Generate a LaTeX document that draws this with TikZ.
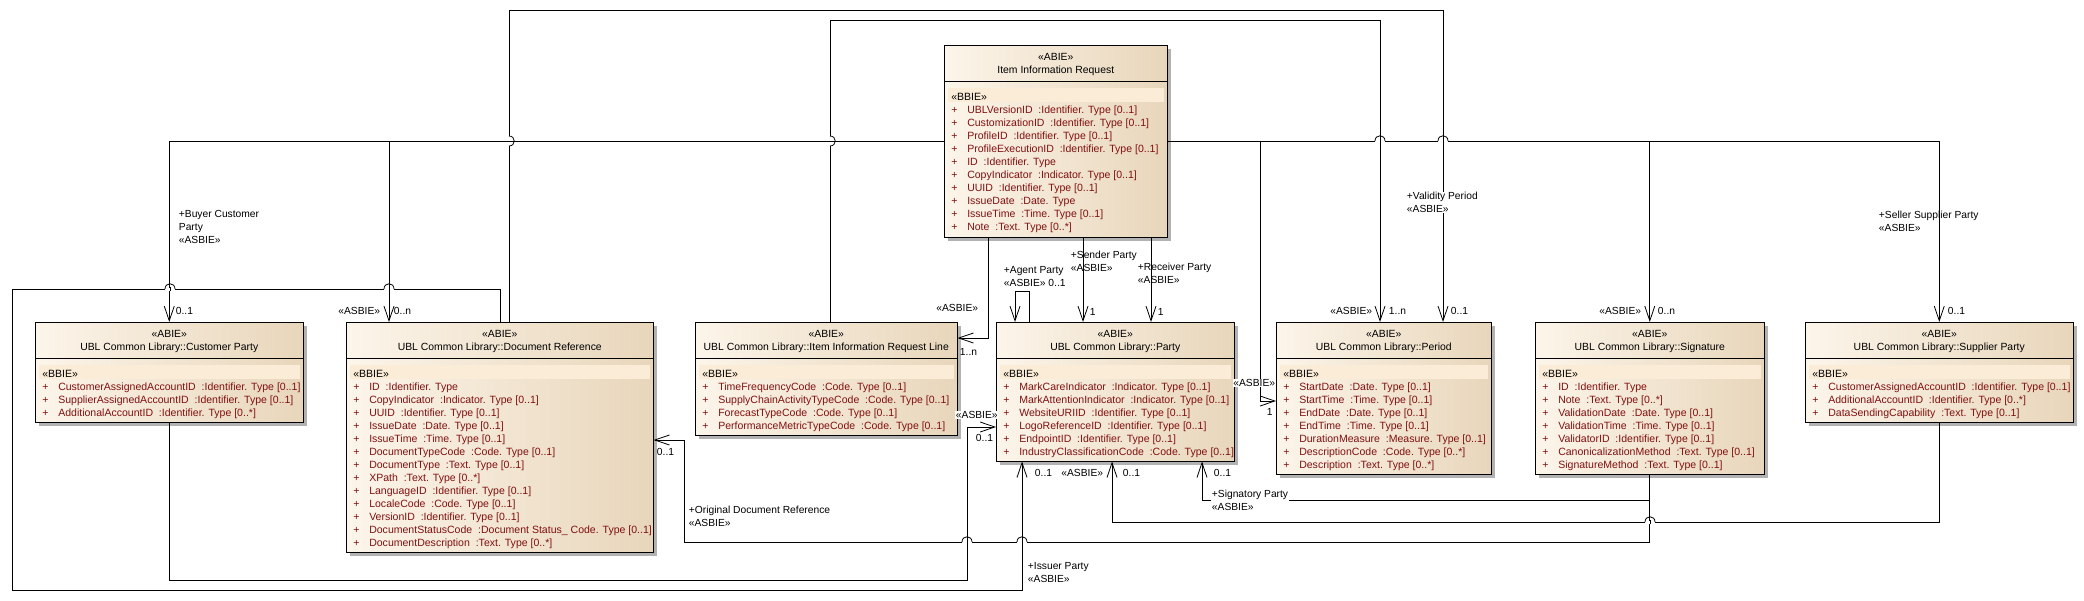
\documentclass[tikz,border=0pt]{standalone}
\usepackage{fontspec}
\setmainfont{Liberation Sans}
\usetikzlibrary{arrows.meta,calc}

\definecolor{attrred}{RGB}{128,16,16}
\definecolor{boxleft}{RGB}{252,245,234}
\definecolor{boxright}{RGB}{232,214,187}
\definecolor{bandcol}{RGB}{251,236,215}

\newcommand{\attr}[1]{\makebox[12pt][l]{+}#1}
% name, x, y, width, height, title, attributes
\newcommand{\umlclass}[7]{%
  \fill[black!30] (#2+4,#3+4) rectangle (#2+#4+4,#3+#5+4);
  \node[classbox,minimum width=#4*0.75pt,minimum height=#5*0.75pt] (#1) at (#2,#3) {};
  \node[classtitle] (#1-title) at ($(#1.north)+(0,19)$) {«ABIE»\\#6};
  \draw ($(#1.north west)+(0,36)$) -- ($(#1.north east)+(0,36)$);
  \fill[bandcol] ($(#1.north west)+(4,43)$) rectangle ($(#1.north east)+(-4,57)$);
  \node[classattrs] (#1-attrs) at ($(#1.north west)+(7,47.5)$) {{\color{black}«BBIE»}\\#7};
}
% line jumps: over a vertical line / over a horizontal line
\newcommand{\hjump}[2]{%
  \fill[white] (#1-5,#2-1.5) rectangle (#1+5,#2+1.5);
  \draw[line width=0.6pt] (#1-5,#2) .. controls (#1-5,#2-7) and (#1+5,#2-7) .. (#1+5,#2);
  \draw[line width=0.6pt] (#1,#2-2) -- (#1,#2+2);
}
\newcommand{\vjump}[2]{%
  \fill[white] (#1-1.5,#2-5) rectangle (#1+1.5,#2+5);
  \draw[line width=0.6pt] (#1,#2-5) .. controls (#1+7,#2-5) and (#1+7,#2+5) .. (#1,#2+5);
  \draw[line width=0.6pt] (#1-2,#2) -- (#1+2,#2);
}

\begin{document}
\begin{tikzpicture}[x=0.75pt,y=-0.75pt,
    classbox/.style={draw,anchor=north west,inner sep=0pt,left color=boxleft,right color=boxright},
    classtitle/.style={align=center,inner sep=0pt,font=\fontsize{7.8}{9.75}\selectfont},
    classattrs/.style={anchor=north west,align=left,inner sep=0pt,text=attrred,font=\fontsize{7.9}{9.75}\selectfont},
    assoc/.style={-{Straight Barb[length=11pt,width=7.5pt]},line width=0.6pt},
    lbl/.style={anchor=west,align=left,inner sep=0.5pt,font=\fontsize{7.7}{9.75}\selectfont},
    lblw/.style={lbl,fill=white},
  ]
  \useasboundingbox (0,0) rectangle (2084,600);

  \umlclass{iir}{944}{45}{223}{192}{Item Information Request}{%
    \attr{UBLVersionID~ :Identifier. Type [0..1]}\\
    \attr{CustomizationID~ :Identifier. Type [0..1]}\\
    \attr{ProfileID~ :Identifier. Type [0..1]}\\
    \attr{ProfileExecutionID~ :Identifier. Type [0..1]}\\
    \attr{ID~ :Identifier. Type}\\
    \attr{CopyIndicator~ :Indicator. Type [0..1]}\\
    \attr{UUID~ :Identifier. Type [0..1]}\\
    \attr{IssueDate~ :Date. Type}\\
    \attr{IssueTime~ :Time. Type [0..1]}\\
    \attr{Note~ :Text. Type [0..*]}}
  \umlclass{custparty}{35}{322}{268}{100}{UBL Common Library::Customer Party}{%
    \attr{CustomerAssignedAccountID~ :Identifier. Type [0..1]}\\
    \attr{SupplierAssignedAccountID~ :Identifier. Type [0..1]}\\
    \attr{AdditionalAccountID~ :Identifier. Type [0..*]}}
  \umlclass{docref}{346}{322}{307}{230}{UBL Common Library::Document Reference}{%
    \attr{ID~ :Identifier. Type}\\
    \attr{CopyIndicator~ :Indicator. Type [0..1]}\\
    \attr{UUID~ :Identifier. Type [0..1]}\\
    \attr{IssueDate~ :Date. Type [0..1]}\\
    \attr{IssueTime~ :Time. Type [0..1]}\\
    \attr{DocumentTypeCode~ :Code. Type [0..1]}\\
    \attr{DocumentType~ :Text. Type [0..1]}\\
    \attr{XPath~ :Text. Type [0..*]}\\
    \attr{LanguageID~ :Identifier. Type [0..1]}\\
    \attr{LocaleCode~ :Code. Type [0..1]}\\
    \attr{VersionID~ :Identifier. Type [0..1]}\\
    \attr{DocumentStatusCode~ :Document Status\_ Code. Type [0..1]}\\
    \attr{DocumentDescription~ :Text. Type [0..*]}}
  \umlclass{iirline}{695}{322}{262}{113}{UBL Common Library::Item Information Request Line}{%
    \attr{TimeFrequencyCode~ :Code. Type [0..1]}\\
    \attr{SupplyChainActivityTypeCode~ :Code. Type [0..1]}\\
    \attr{ForecastTypeCode~ :Code. Type [0..1]}\\
    \attr{PerformanceMetricTypeCode~ :Code. Type [0..1]}}
  \umlclass{party}{996}{322}{238}{139}{UBL Common Library::Party}{%
    \attr{MarkCareIndicator~ :Indicator. Type [0..1]}\\
    \attr{MarkAttentionIndicator~ :Indicator. Type [0..1]}\\
    \attr{WebsiteURIID~ :Identifier. Type [0..1]}\\
    \attr{LogoReferenceID~ :Identifier. Type [0..1]}\\
    \attr{EndpointID~ :Identifier. Type [0..1]}\\
    \attr{IndustryClassificationCode~ :Code. Type [0..1]}}
  \umlclass{period}{1276}{322}{215}{152}{UBL Common Library::Period}{%
    \attr{StartDate~ :Date. Type [0..1]}\\
    \attr{StartTime~ :Time. Type [0..1]}\\
    \attr{EndDate~ :Date. Type [0..1]}\\
    \attr{EndTime~ :Time. Type [0..1]}\\
    \attr{DurationMeasure~ :Measure. Type [0..1]}\\
    \attr{DescriptionCode~ :Code. Type [0..*]}\\
    \attr{Description~ :Text. Type [0..*]}}
  \umlclass{signature}{1535}{322}{229}{152}{UBL Common Library::Signature}{%
    \attr{ID~ :Identifier. Type}\\
    \attr{Note~ :Text. Type [0..*]}\\
    \attr{ValidationDate~ :Date. Type [0..1]}\\
    \attr{ValidationTime~ :Time. Type [0..1]}\\
    \attr{ValidatorID~ :Identifier. Type [0..1]}\\
    \attr{CanonicalizationMethod~ :Text. Type [0..1]}\\
    \attr{SignatureMethod~ :Text. Type [0..1]}}
  \umlclass{supparty}{1805}{322}{268}{100}{UBL Common Library::Supplier Party}{%
    \attr{CustomerAssignedAccountID~ :Identifier. Type [0..1]}\\
    \attr{AdditionalAccountID~ :Identifier. Type [0..*]}\\
    \attr{DataSendingCapability~ :Text. Type [0..1]}}

  % connector ends
  \coordinate (dr-add) at ($(docref.north west)+(43,0)$);
  \coordinate (dr-iss) at ($(docref.north west)+(154,0)$);
  \coordinate (dr-val) at ($(docref.north west)+(163,0)$);
  \coordinate (dr-orig) at ($(docref.north east)+(0,118)$);
  \coordinate (ln-top) at ($(iirline.north west)+(135,0)$);
  \coordinate (ln-in) at ($(iirline.north east)+(0,16)$);
  \coordinate (iir-b1) at ($(iir.south west)+(44,0)$);
  \coordinate (iir-b2) at ($(iir.south west)+(139,0)$);
  \coordinate (iir-b3) at ($(iir.south west)+(207,0)$);
  \coordinate (pt-agent) at ($(party.north west)+(19,0)$);
  \coordinate (pt-self) at ($(party.north west)+(33,0)$);
  \coordinate (pt-sender) at ($(party.north west)+(87,0)$);
  \coordinate (pt-recv) at ($(party.north west)+(155,0)$);
  \coordinate (pt-left) at ($(party.north west)+(0,105)$);
  \coordinate (pt-iss) at ($(party.south west)+(26,0)$);
  \coordinate (pt-sup) at ($(party.south west)+(116,0)$);
  \coordinate (pt-sig) at ($(party.south west)+(206,0)$);
  \coordinate (pd-left) at ($(period.north west)+(0,79)$);
  \coordinate (pd-line) at ($(period.north west)+(104,0)$);
  \coordinate (pd-val) at ($(period.north west)+(167,0)$);

  %item information request
  \draw[assoc] (iir.west) -| (custparty.north);
  \draw[assoc] (iir.west) -| (dr-add);
  \draw[assoc] (iir-b1) |- (ln-in);
  \draw[assoc] (iir-b2) -- (pt-sender);
  \draw[assoc] (iir-b3) -- (pt-recv);
  \draw[assoc] (iir.east) -| (1260,401) -- (pd-left);
  \draw[assoc] (iir.east) -| (signature.north);
  \draw[assoc] (iir.east) -| (supparty.north);

  %line, document reference, party
  \draw[assoc] (ln-top) |- (1380,20) -- (pd-line);
  \draw[assoc] (dr-val) |- (1443,10) -- (pd-val);
  \draw[assoc] (pt-self) -- ++(0,-31) -| (pt-agent);
  \draw[assoc] (dr-iss) |- (12,289) |- (1022,590) -- (pt-iss);
  \draw[assoc] (custparty.south) |- (967,580) |- (pt-left);
  \draw[assoc] (supparty.south) |- (1112,522) -- (pt-sup);
  \draw[assoc] (signature.south) |- (1202,500) -- (pt-sig);
  \draw[assoc] (signature.south) |- (684,542) |- (dr-orig);

  %jumps
  \vjump{509}{141}
  \vjump{830}{141}
  \hjump{1380}{141}
  \hjump{1443}{141}
  \hjump{170}{289}
  \hjump{389}{289}
  \hjump{967}{542}
  \hjump{1022}{542}
  \hjump{1650}{522}

  %labels
  \node[lbl] (l-buyer) at (178,227) {+Buyer Customer\\Party\\«ASBIE»};
  \node[lbl] (m-buyer) at (175,311) {0..1};
  \node[lbl,anchor=east] (s-add) at (381,311) {«ASBIE»};
  \node[lbl] (m-add) at (393,311) {0..n};
  \node[lbl,anchor=east] (s-line) at (979,308) {«ASBIE»};
  \node[lbl] (m-line) at (959,352) {1..n};
  \node[lbl] (l-agent) at (1003,276.5) {+Agent Party\\«ASBIE» 0..1};
  \node[lbl] (l-sender) at (1070,261.5) {+Sender Party\\«ASBIE»};
  \node[lbl] (m-sender) at (1089,312) {1};
  \node[lbl] (l-recv) at (1137,273) {+Receiver Party\\«ASBIE»};
  \node[lbl] (m-recv) at (1157,312) {1};
  \node[lblw,anchor=east] (s-period) at (1276,383) {«ASBIE»};
  \node[lbl] (m-period) at (1266,412) {1};
  \node[lbl,anchor=east] (s-pdline) at (1373,311) {«ASBIE»};
  \node[lbl] (m-pdline) at (1388,311) {1..n};
  \node[lblw] (l-valid) at (1406,202.5) {+Validity Period\\«ASBIE»};
  \node[lbl] (m-valid) at (1450,311) {0..1};
  \node[lbl,anchor=east] (s-sig) at (1642,311) {«ASBIE»};
  \node[lbl] (m-sig) at (1657,311) {0..n};
  \node[lbl] (l-seller) at (1878,221.5) {+Seller Supplier Party\\«ASBIE»};
  \node[lbl] (m-seller) at (1947,311) {0..1};
  \node[lbl] (l-issuer) at (1027,572.5) {+Issuer Party\\«ASBIE»};
  \node[lbl] (m-issuer) at (1034,473) {0..1};
  \node[lbl] (l-orig) at (688,516.5) {+Original Document Reference\\«ASBIE»};
  \node[lbl] (m-orig) at (656,452) {0..1};
  \node[lblw] (s-cust) at (955,415) {«ASBIE»};
  \node[lbl] (m-cust) at (975,438) {0..1};
  \node[lbl,anchor=east] (s-sup) at (1104,473) {«ASBIE»};
  \node[lbl] (m-sup) at (1122,473) {0..1};
  \node[lblw] (l-signatory) at (1211,500.5) {+Signatory Party\\«ASBIE»};
  \node[lbl] (m-signatory) at (1213,473) {0..1};
\end{tikzpicture}
\end{document}
